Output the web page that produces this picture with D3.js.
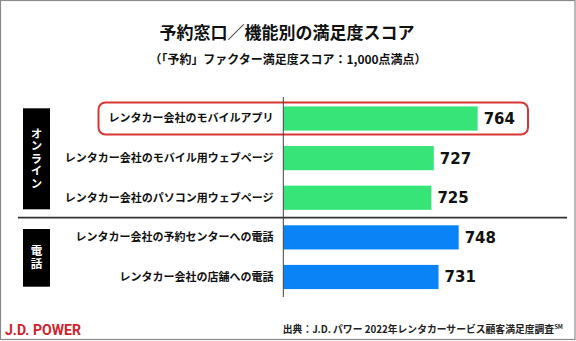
<!DOCTYPE html>
<html><head><meta charset="utf-8">
<script src="https://cdn.jsdelivr.net/npm/d3@7"></script>
<style>
html,body{margin:0;padding:0;background:#fff;}
svg{display:block;}
text{font-family:"Noto Sans CJK JP","Noto Sans",sans-serif;}
</style></head>
<body>
<script>
const categories = [
  "レンタカー会社のモバイルアプリ",
  "レンタカー会社のモバイル用ウェブページ",
  "レンタカー会社のパソコン用ウェブページ",
  "レンタカー会社の予約センターへの電話",
  "レンタカー会社の店舗への電話"
];
const values = [764, 727, 725, 748, 731];
const groups = ["online","online","online","phone","phone"];
const groupLabels = [{key:"online", label:"オンライン"}, {key:"phone", label:"電話"}];
const title = "予約窓口／機能別の満足度スコア";
const subtitle = "（「予約」ファクター満足度スコア：1,000点満点）";
const source = "出典：J.D. パワー 2022年レンタカーサービス顧客満足度調査";
const highlight = 0;

const W = 576, H = 341;
const svg = d3.select("body").append("svg").attr("width", W).attr("height", H);

// frame
svg.append("rect").attr("x",0.5).attr("y",0.5).attr("width",W-1.5).attr("height",H-2)
  .attr("fill","#fff").attr("stroke","#8a8a8a").attr("stroke-width",1.2);

// titles
svg.append("text").attr("x",287).attr("y",39).attr("text-anchor","middle")
  .attr("font-size",17).attr("font-weight","bold").attr("fill","#111").text(title);
svg.append("text").attr("x",288).attr("y",64).attr("text-anchor","middle")
  .attr("font-size",12).attr("font-weight","bold").attr("fill","#111")
  .attr("textLength",277).attr("lengthAdjust","spacingAndGlyphs").text(subtitle);

const x = d3.scaleLinear().domain([600, 800]).range([283.3, 283.3 + 200*1.185]);
const y = d3.scaleBand().domain(d3.range(categories.length)).range([98.5, 297]).paddingInner(0.39).paddingOuter(0.2);
const colors = {online:"#36e477", phone:"#0a83f6"};

// highlight box
svg.append("rect").attr("x",98.5).attr("y",y(highlight)-4).attr("width",528-98.5).attr("height",y.bandwidth()+8)
  .attr("rx",7).attr("fill","none").attr("stroke","#d93535").attr("stroke-width",2);

// bars
svg.selectAll("rect.bar").data(values).enter().append("rect").attr("class","bar")
  .attr("x", x(600)).attr("y",(d,i)=>y(i)).attr("width",d=>x(d)-x(600)).attr("height",y.bandwidth())
  .attr("fill",(d,i)=>colors[groups[i]]);

// values
svg.selectAll("text.val").data(values).enter().append("text").attr("class","val")
  .attr("x",d=>x(d)+6).attr("y",(d,i)=>y(i)+y.bandwidth()/2+5.5)
  .attr("font-size",15).attr("font-weight","bold").attr("fill","#111")
  .style("font-family","'DejaVu Sans',sans-serif")
  .text(d=>d);

// category labels via axis
const yAxis = d3.axisLeft(y).tickSize(0).tickPadding(0).tickFormat(i=>categories[i]);
const ag = svg.append("g").attr("transform","translate(273.5,0)").call(yAxis);
ag.select(".domain").remove();
ag.selectAll("text").attr("font-size",11).attr("font-weight","bold").attr("fill","#111")
  .style("font-family","'Noto Sans CJK JP',sans-serif").attr("dy","0.35em");

// separator
const sepY = (y(2)+y.bandwidth()+y(3))/2;
svg.append("line").attr("x1",18).attr("x2",567).attr("y1",sepY).attr("y2",sepY)
  .attr("stroke","#333").attr("stroke-width",1.8);

// axis line
svg.append("line").attr("x1",x(600)).attr("x2",x(600)).attr("y1",97).attr("y2",297)
  .attr("stroke","#444").attr("stroke-width",1);

// group boxes
groupLabels.forEach(g=>{
  const top = g.key==="online" ? 108.3 : 229;
  const bot = g.key==="online" ? 209.3 : 286.7;
  svg.append("rect").attr("x",23).attr("y",top).attr("width",27).attr("height",bot-top).attr("fill","#000");
  const cy = (top+bot)/2;
  svg.append("text").attr("x",36.5).attr("y",cy)
    .style("writing-mode","vertical-rl").style("text-orientation","upright")
    .attr("text-anchor","middle").attr("dominant-baseline","central")
    .attr("font-size",11.5).attr("font-weight","bold").attr("fill","#fff")
    .attr("letter-spacing", g.key==="online" ? 1 : 1.5)
    .text(g.label);
});

// footer
svg.append("text").attr("x",5).attr("y",334.5).attr("font-size",14.5).attr("font-weight","bold")
  .attr("fill","#d11f2d").style("font-family","Roboto,'Liberation Sans',sans-serif")
  .attr("textLength",76).attr("lengthAdjust","spacingAndGlyphs").text("J.D. POWER");
const st = svg.append("text").attr("x",563).attr("y",333).attr("text-anchor","end")
  .attr("font-size",9.8).attr("font-weight","bold").attr("fill","#222");
st.append("tspan").text(source);
st.append("tspan").attr("font-size",6).attr("dy",-4).text("SM");
</script>
</body></html>
